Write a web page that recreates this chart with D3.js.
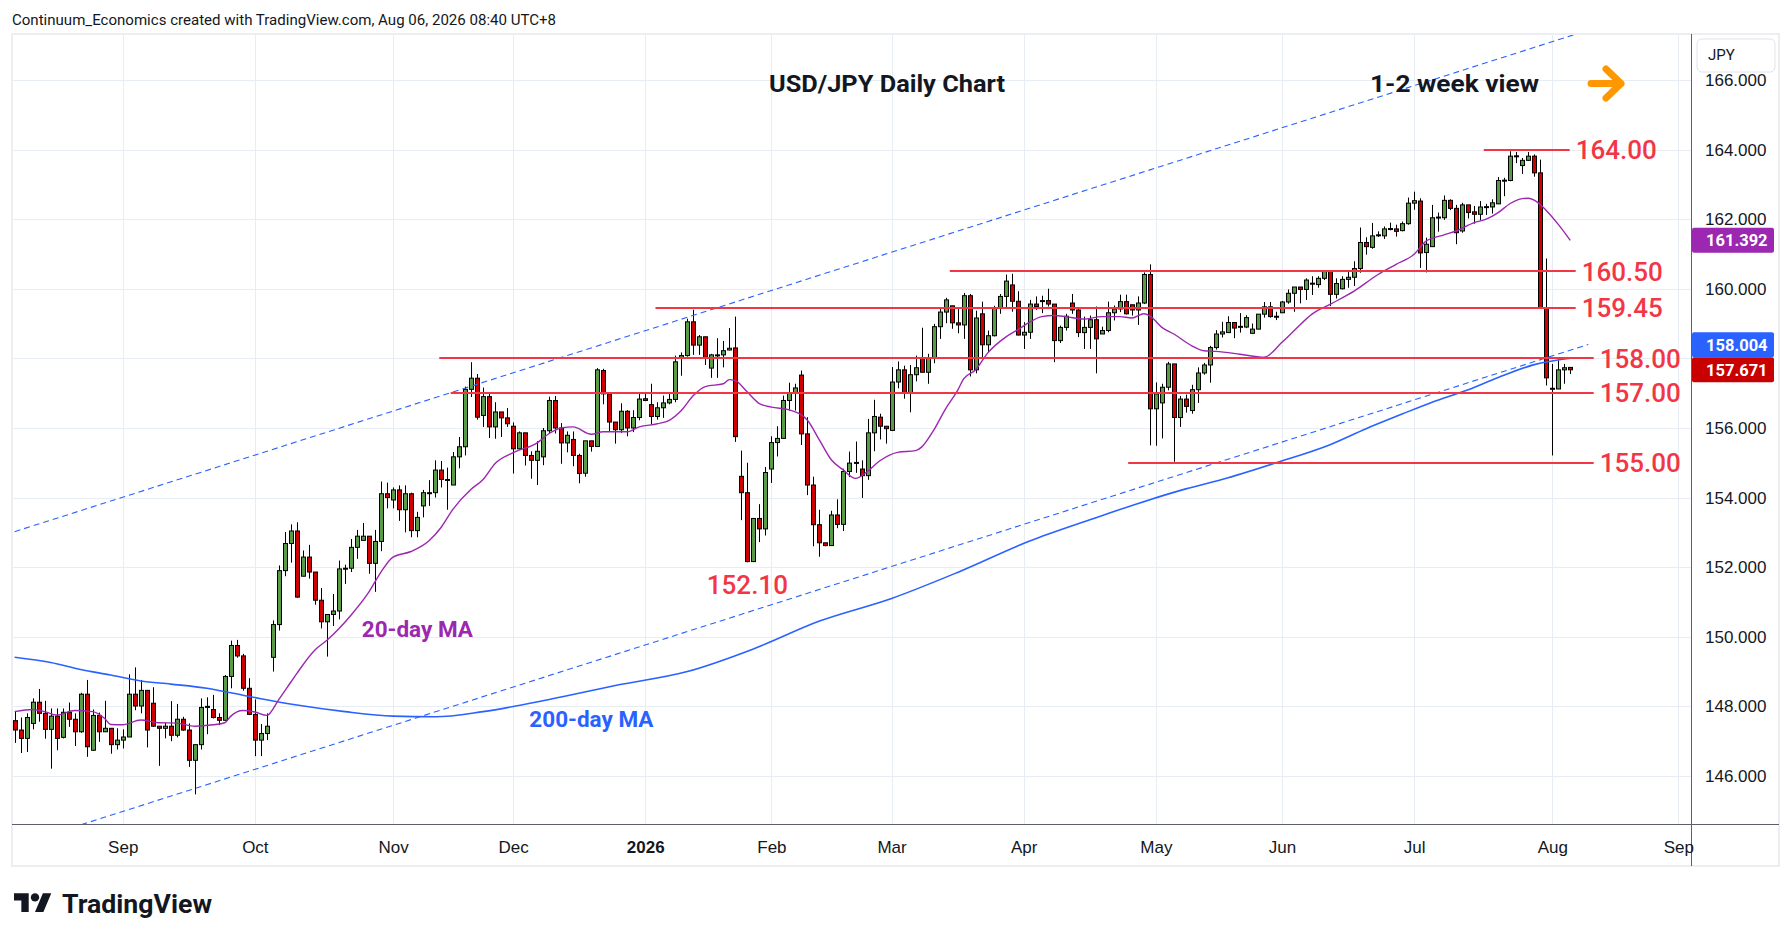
<!DOCTYPE html>
<html><head><meta charset="utf-8">
<script src="https://cdn.jsdelivr.net/npm/d3@7"></script>
<style>
html,body{margin:0;padding:0;background:#fff;}
svg{display:block;font-family:Roboto,"Noto Sans","DejaVu Sans",sans-serif;}
</style></head><body>
<svg id="chart" width="1792" height="942"></svg>
<script>
// ---------------- DATA ----------------
const startDate = "2025-08-06";
const calendarEnd = "2026-09-03";
const holidays = ["2025-12-25", "2026-01-01"];

const openP = [
147.59,147.32,147.08,147.51,148.12,147.80,147.34,147.72,147.11,147.83,
147.63,147.27,148.35,146.74,147.74,147.27,147.37,146.90,147.03,147.12,
148.35,148.01,148.46,148.09,147.43,147.37,147.43,147.17,147.63,147.32,
146.45,146.90,147.97,147.91,147.68,147.60,148.86,149.75,149.45,148.52,
147.77,147.03,147.22,149.41,150.35,151.90,152.68,153.04,151.74,152.29,
151.86,151.05,150.43,150.64,150.74,151.95,151.97,152.57,152.77,152.89,
152.11,152.74,154.11,153.93,154.22,153.65,154.11,153.05,153.76,154.12,
154.14,154.79,154.52,154.36,155.17,155.46,157.11,157.43,156.36,156.90,
156.03,156.46,156.29,156.05,155.40,155.86,155.21,155.07,155.17,155.92,
156.79,156.00,155.57,155.67,155.21,154.70,155.63,155.47,157.65,156.98,
156.17,155.95,156.48,156.00,156.30,156.84,156.67,156.33,156.58,156.72,
156.82,158.03,158.08,159.05,158.38,158.62,157.72,158.08,158.10,158.24,
158.30,154.61,154.14,152.16,153.40,153.10,154.82,155.58,155.70,156.79,
157.00,157.52,155.83,154.36,153.22,152.70,152.62,153.50,153.23,154.75,
154.99,154.82,154.63,155.86,156.31,156.05,155.93,157.32,157.67,157.01,
157.53,158.01,157.60,158.01,158.91,159.33,159.51,159.02,158.96,159.80,
157.67,159.28,158.39,158.65,159.45,159.78,160.11,159.64,158.67,158.75,
159.56,159.64,159.66,159.56,158.51,158.89,159.59,159.39,158.74,158.89,
159.11,158.70,158.80,159.31,159.42,159.63,159.54,159.39,159.59,160.41,
156.55,156.72,157.17,157.84,156.30,156.83,156.50,157.10,157.58,157.81,
158.31,158.70,158.74,159.03,158.90,158.90,158.72,158.84,159.27,159.48,
159.19,159.31,159.62,159.87,160.05,159.98,160.14,160.12,160.30,160.50,
159.84,160.00,160.27,160.33,160.58,161.33,161.19,161.53,161.52,161.71,
161.72,161.67,161.87,162.46,162.52,161.04,161.21,162.04,162.04,162.54,
162.31,161.66,162.41,162.21,162.14,162.34,162.35,162.44,163.10,163.11,
163.80,163.54,163.69,163.81,163.33,159.46,157.12,157.12,157.67,157.74];

const highP = [
147.87,147.68,147.80,148.23,148.50,148.16,147.94,147.94,147.94,148.11,
147.80,148.39,148.76,147.91,147.82,148.16,147.37,147.37,147.34,148.92,
149.12,148.76,148.46,148.55,147.43,147.53,148.15,148.07,147.70,147.51,
146.90,148.23,148.26,148.33,147.80,148.90,149.89,149.91,149.51,148.81,
148.20,147.49,147.80,150.47,152.05,153.01,153.23,153.29,152.48,152.64,
151.86,151.40,150.64,151.23,152.19,152.07,152.81,153.07,153.27,152.89,
153.07,154.46,154.43,154.29,154.35,154.35,154.14,153.59,154.22,154.50,
155.07,155.05,154.86,155.31,155.74,157.19,157.89,157.55,157.16,157.00,
156.74,156.46,156.57,156.16,155.90,155.86,155.33,155.62,156.00,156.90,
156.92,156.14,155.90,155.90,155.26,155.63,155.63,157.72,157.70,156.98,
156.17,156.71,156.51,156.51,156.98,156.98,157.27,156.74,156.93,157.03,
158.08,158.17,159.14,159.40,158.67,158.62,158.13,158.58,158.50,158.87,
159.20,155.35,155.00,153.40,153.81,154.88,155.76,156.05,156.93,157.30,
157.27,157.65,156.31,154.60,153.65,152.70,153.62,153.95,154.83,155.32,
155.61,155.07,156.26,156.81,156.41,156.05,157.75,157.91,157.79,157.81,
158.08,158.88,158.13,158.99,159.42,159.74,159.51,159.47,159.88,159.85,
159.37,159.63,158.80,159.51,159.85,160.41,160.43,159.93,159.04,159.68,
159.78,159.80,160.00,159.56,158.94,159.28,159.85,159.42,159.20,159.23,
159.49,158.91,159.63,159.52,159.83,159.83,159.54,159.78,160.47,160.70,
157.31,157.27,157.90,157.84,156.92,156.96,157.24,157.74,157.87,158.36,
158.81,159.05,159.21,159.03,159.30,159.24,159.00,159.27,159.62,159.62,
159.34,159.65,159.98,160.05,160.05,160.30,160.36,160.36,160.53,160.53,
160.30,160.36,160.49,160.79,161.76,161.48,161.89,161.65,161.79,161.90,
161.84,161.93,162.62,162.79,162.60,161.47,162.41,162.19,162.68,162.57,
162.41,162.47,162.41,162.38,162.52,162.44,162.57,163.21,163.19,163.95,
163.93,163.76,163.93,163.86,163.71,160.87,157.84,157.94,157.84,157.75];

const lowP = [
146.95,146.66,146.69,147.34,147.56,147.07,146.21,146.74,147.08,147.41,
146.86,147.24,146.55,146.72,146.98,147.27,146.64,146.76,146.79,147.12,
147.89,147.80,146.82,147.41,146.29,147.08,147.00,147.11,147.30,146.26,
145.47,146.76,147.20,147.65,147.46,147.59,148.52,149.40,148.45,147.75,
146.57,146.57,147.03,149.00,150.18,151.74,152.13,151.12,151.74,151.67,
150.92,150.24,149.43,150.31,150.50,151.52,151.86,152.24,152.77,151.81,
151.29,152.46,153.69,153.69,153.33,153.00,152.86,152.86,153.43,153.76,
154.00,154.29,153.65,154.36,154.84,155.21,156.89,156.24,156.03,155.71,
155.69,155.74,156.03,154.69,155.38,154.92,154.54,154.36,154.93,155.84,
155.84,154.97,155.30,154.90,154.41,154.60,155.32,155.47,156.68,155.89,
155.55,155.86,155.76,155.88,156.22,156.77,156.10,156.24,156.29,156.68,
156.74,157.50,158.05,158.10,158.10,157.81,157.44,157.44,157.74,158.23,
155.60,153.35,152.14,152.16,152.72,152.91,154.42,155.18,155.70,156.50,
156.50,155.51,154.07,152.60,152.30,152.60,152.62,153.12,153.04,154.59,
154.71,153.99,154.51,155.33,155.67,155.55,155.91,157.14,156.84,156.45,
157.34,157.60,157.27,157.86,158.56,159.01,158.85,158.72,158.56,157.48,
157.57,158.00,158.18,158.63,159.28,159.47,159.34,158.66,158.27,158.56,
159.39,159.30,159.49,157.89,158.44,158.80,159.28,158.61,158.27,158.27,
157.57,158.70,158.75,159.09,159.33,159.26,159.23,158.96,159.56,155.50,
155.49,155.70,157.08,155.03,156.03,156.44,156.41,156.72,157.53,157.30,
158.25,158.60,158.74,158.58,158.74,158.87,158.71,158.84,159.17,159.17,
159.10,159.30,159.57,159.34,159.58,159.68,159.82,160.03,160.25,159.50,
159.72,159.98,160.03,160.08,160.46,160.98,161.15,161.49,161.43,161.68,
161.50,161.65,161.84,162.27,160.60,160.47,161.21,161.64,161.98,162.26,
161.28,161.61,162.02,161.87,161.97,162.12,162.16,162.43,162.66,163.09,
163.61,163.30,163.67,163.22,159.42,157.22,155.21,157.12,157.27,157.55];

const closeP = [
147.32,147.08,147.68,148.12,147.80,147.34,147.72,147.08,147.83,147.63,
147.27,148.35,146.84,147.74,147.27,147.37,146.90,147.03,147.12,148.35,
148.01,148.46,147.32,147.43,147.37,147.43,147.17,147.63,147.32,146.45,
146.90,147.97,148.00,147.68,147.60,148.86,149.75,149.45,148.52,147.77,
147.03,147.22,147.43,150.35,151.90,152.68,153.04,151.14,152.29,151.86,
151.05,150.43,150.64,150.74,151.95,151.97,152.57,152.89,152.89,152.11,
152.74,154.11,154.00,154.22,153.65,154.11,153.05,153.43,154.14,154.14,
154.79,154.52,154.50,155.17,155.46,157.11,157.43,156.31,156.90,156.03,
156.46,156.29,156.12,155.40,155.86,155.21,155.07,155.33,155.92,156.79,
156.00,155.57,155.79,155.21,154.69,155.63,155.47,157.67,156.98,156.17,
155.95,156.48,156.00,156.30,156.83,156.79,156.33,156.58,156.72,156.82,
157.90,158.08,159.05,158.38,158.62,158.03,158.10,158.10,158.22,158.29,
155.75,154.14,152.16,153.40,153.10,154.72,155.58,155.70,156.79,157.00,
157.15,155.83,154.36,153.22,152.70,152.62,153.50,153.23,154.75,154.99,
155.01,154.63,155.86,156.33,156.05,155.98,157.32,157.67,157.01,157.53,
157.73,157.60,158.01,158.91,159.33,159.68,159.02,158.96,159.80,157.67,
159.16,158.39,158.65,159.45,159.78,160.22,159.64,158.67,158.75,159.56,
159.49,159.66,159.56,158.51,158.89,159.21,159.39,158.74,158.89,159.11,
158.56,158.80,159.31,159.42,159.63,159.28,159.39,159.59,160.41,156.55,
156.98,157.17,157.84,156.30,156.83,156.62,157.10,157.58,157.81,158.31,
158.70,158.76,159.03,158.87,158.92,159.17,158.84,159.27,159.48,159.20,
159.21,159.62,159.87,160.05,159.98,160.25,160.16,160.30,160.50,159.84,
160.15,160.27,160.33,160.58,161.33,161.21,161.52,161.55,161.72,161.73,
161.65,161.87,162.46,162.53,161.03,161.28,162.04,162.06,162.54,162.31,
161.61,162.41,162.19,162.14,162.35,162.36,162.47,163.11,163.12,163.81,
163.82,163.69,163.81,163.33,159.46,157.44,157.14,157.67,157.73,157.671];

// 20-day moving average (bar index, value)
const ma20Idx = [0,3,5,7,10,13,15,16,18,21,24,27,30,33,35,36,38,40,42,44,46,47,50,52,56,59,61,63,66,69,71,73,76,78,80,83,87,89,91,93,96,98,102,104,107,109,111,113,115,118,119,120,122,124,126,129,132,134,136,138,140,142,144,147,150,151,153,155,157,158,160,162,165,167,169,171,173,175,178,181,184,186,188,189,191,193,196,198,200,204,208,211,213,216,219,223,227,230,233,235,238,240,243,245,247,249,251,252,253,255,257,259];
const ma20Val = [147.85,147.91,147.85,147.75,147.88,147.85,147.65,147.48,147.47,147.61,147.53,147.52,147.43,147.47,147.53,147.72,147.88,147.84,147.74,148.2,148.7,148.95,149.62,149.90,150.62,151.29,151.86,152.29,152.45,152.76,153.14,153.67,154.24,154.52,154.98,155.29,155.57,155.84,156.0,156.03,155.82,155.89,155.89,156.03,156.12,156.22,156.50,156.93,157.19,157.27,157.39,157.36,157.03,156.70,156.60,156.52,156.22,155.65,155.08,154.79,154.55,154.75,155.05,155.30,155.35,155.45,155.93,156.55,157.08,157.41,157.67,158.15,158.61,158.82,159.04,159.20,159.23,159.20,159.13,159.20,159.20,159.16,159.28,159.22,158.89,158.70,158.36,158.22,158.20,158.12,158.03,158.46,158.79,159.27,159.55,159.93,160.41,160.70,160.99,161.37,161.55,161.66,161.90,162.0,162.19,162.45,162.59,162.60,162.55,162.25,161.85,161.392];

// 200-day moving average (bar index, value)
const ma200Idx = [0,6,11,16,21,26,32,36,41,47,55,63,70,78,89,100,112,123,134,146,157,169,179,189,195,201,210,219,225,231,236,242,247,253,259];
const ma200Val = [149.41,149.26,149.06,148.90,148.73,148.64,148.52,148.39,148.22,148.04,147.85,147.72,147.70,147.85,148.2,148.6,149.0,149.65,150.45,151.1,151.85,152.75,153.36,153.94,154.25,154.52,155.0,155.52,155.98,156.40,156.74,157.10,157.45,157.82,158.004];

const monthLabels = ["Sep","Oct","Nov","Dec","2026","Feb","Mar","Apr","May","Jun","Jul","Aug","Sep"];
const priceTicks = [146,148,150,152,154,156,158,160,162,164,166];

// Horizontal levels (price, from bar index, to bar index)
const levelPrices = [164.00,160.50,159.45,158.00,157.00,155.00];
const levelText = ["164.00","160.50","159.45","158.00","157.00","155.00"];
const levelFrom = [244.6,155.7,106.7,70.7,72.6,185.4];
const levelTo = [258.9,259.9,259.9,262.9,262.9,262.9];

// Channel trend lines (bar index, price)
const channelIdx = [0, 262];
const channelUpper = [153.02, 167.43];
const channelLower = [143.99, 158.40];

// Text annotations anchored to (bar index, price)
const annoText = ["152.10","20-day MA","200-day MA"];
const annoIdx = [122.0, 57.8, 85.7];
const annoPrice = [151.23, 149.98, 147.40];

const lastPrice = 157.671;
const ma20Last = 161.392;
const ma200Last = 158.004;

// ---------------- CHART ----------------
const svg = d3.select("#chart");
const plot = {left:12.5, right:1691, top:35, bottom:824, frameRight:1779, frameBottom:866};
const GREEN = "#5a9b47", RED = "#d10000", LEVEL = "#f23645", PURPLE = "#9c27b0", BLUE = "#2962ff";

svg.append("rect").attr("width",1792).attr("height",942).attr("fill","#fff");

const parse = d3.utcParse("%Y-%m-%d"), fmt = d3.utcFormat("%Y-%m-%d");
const allDays = d3.utcDay.range(parse(startDate), d3.utcDay.offset(parse(calendarEnd),1));
const calendar = allDays.filter(d => d.getUTCDay()!==0 && d.getUTCDay()!==6 && !holidays.includes(fmt(d)));
const monthIdx = [];
for (let i=1;i<calendar.length;i++) if (calendar[i].getUTCMonth()!==calendar[i-1].getUTCMonth()) monthIdx.push(i);

const x = d3.scaleLinear().domain([-0.35, calendar.length - 0.9]).range([plot.left, plot.right]);
const y = d3.scaleLinear().domain([144.62, 167.28]).range([plot.bottom, 35.4]);

svg.append("defs").append("clipPath").attr("id","clip")
  .append("rect").attr("x",plot.left).attr("y",plot.top).attr("width",plot.right-plot.left).attr("height",plot.bottom-plot.top);

// grid
const grid = svg.append("g").attr("stroke","#e8edf3").attr("stroke-width",1);
grid.selectAll("line.h").data(priceTicks).join("line")
  .attr("x1",plot.left).attr("x2",plot.right)
  .attr("y1",d=>Math.round(y(d))+0.5).attr("y2",d=>Math.round(y(d))+0.5);
grid.selectAll("line.v").data(monthIdx).join("line")
  .attr("y1",plot.top).attr("y2",plot.bottom)
  .attr("x1",d=>Math.round(x(d))+0.5).attr("x2",d=>Math.round(x(d))+0.5);

const pg = svg.append("g").attr("clip-path","url(#clip)");

// candles
const bars = openP.map((o,i)=>({i,o,h:highP[i],l:lowP[i],c:closeP[i]}));
const cg = pg.append("g");
cg.selectAll("line.wick").data(bars).join("line")
  .attr("x1",d=>Math.round(x(d.i))+0.5).attr("x2",d=>Math.round(x(d.i))+0.5)
  .attr("y1",d=>y(d.h)).attr("y2",d=>y(d.l))
  .attr("stroke","#000").attr("stroke-width",1);
cg.selectAll("rect.body").data(bars).join("rect")
  .attr("x",d=>Math.round(x(d.i))-2+0.5)
  .attr("width",4)
  .attr("y",d=>Math.min(y(d.o),y(d.c)))
  .attr("height",d=>Math.max(1,Math.abs(y(d.o)-y(d.c))))
  .attr("fill",d=>d.c>=d.o?GREEN:RED)
  .attr("stroke","#000").attr("stroke-width",1);

// moving averages
const maLine = d3.line().x(d=>x(d[0])).y(d=>y(d[1])).curve(d3.curveMonotoneX);
pg.append("path").datum(ma200Idx.map((k,j)=>[k,ma200Val[j]]))
  .attr("d",maLine).attr("fill","none").attr("stroke",BLUE).attr("stroke-width",1.6);
pg.append("path").datum(ma20Idx.map((k,j)=>[k,ma20Val[j]]))
  .attr("d",maLine).attr("fill","none").attr("stroke",PURPLE).attr("stroke-width",1.4);

// channel
[channelUpper, channelLower].forEach(ch=>{
  pg.append("line")
    .attr("x1",x(channelIdx[0])).attr("y1",y(ch[0]))
    .attr("x2",x(channelIdx[1])).attr("y2",y(ch[1]))
    .attr("stroke",BLUE).attr("stroke-width",1.1).attr("stroke-dasharray","6,4");
});

// levels
const lv = levelPrices.map((p,j)=>({p,t:levelText[j],a:levelFrom[j],b:levelTo[j]}));
pg.selectAll("line.lv").data(lv).join("line")
  .attr("x1",d=>x(d.a)).attr("x2",d=>x(d.b))
  .attr("y1",d=>Math.round(y(d.p))).attr("y2",d=>Math.round(y(d.p)))
  .attr("stroke",LEVEL).attr("stroke-width",2);
pg.selectAll("text.lv").data(lv).join("text")
  .attr("x",d=>x(d.b)+6).attr("y",d=>y(d.p)+9.3)
  .attr("font-size",26).attr("font-weight",500).attr("fill",LEVEL)
  .text(d=>d.t);

// annotations
const annoStyle = [
  {fill:LEVEL, size:26, weight:500, anchor:"middle"},
  {fill:PURPLE, size:22.5, weight:700, anchor:"start"},
  {fill:BLUE, size:22.5, weight:700, anchor:"start"}];
annoText.forEach((t,j)=>{
  pg.append("text").attr("x",x(annoIdx[j])).attr("y",y(annoPrice[j]))
    .attr("text-anchor",annoStyle[j].anchor)
    .attr("font-size",annoStyle[j].size).attr("font-weight",annoStyle[j].weight)
    .attr("fill",annoStyle[j].fill).text(t);
});

// titles
pg.append("text").attr("x",769).attr("y",91.5)
  .attr("font-size",24.5).attr("font-weight",700).attr("fill","#131722")
  .attr("textLength",236).attr("lengthAdjust","spacingAndGlyphs").text("USD/JPY Daily Chart");
pg.append("text").attr("x",1370).attr("y",91.5)
  .attr("font-size",24.5).attr("font-weight",700).attr("fill","#131722")
  .attr("textLength",169).attr("lengthAdjust","spacingAndGlyphs").text("1-2 week view");
pg.append("path").attr("d","M1591,83.5H1621M1606,69L1621,83.5L1606,98")
  .attr("fill","none").attr("stroke","#ff9800").attr("stroke-width",7)
  .attr("stroke-linecap","round").attr("stroke-linejoin","round");

// frame & axes lines
svg.append("rect").attr("x",12).attr("y",34).attr("width",plot.frameRight-12).attr("height",plot.frameBottom-34)
  .attr("fill","none").attr("stroke","#eceef2").attr("stroke-width",2);
svg.append("line").attr("x1",plot.right+0.5).attr("x2",plot.right+0.5).attr("y1",34).attr("y2",plot.frameBottom)
  .attr("stroke","#5d606b").attr("stroke-width",1);
svg.append("line").attr("x1",12).attr("x2",plot.frameRight).attr("y1",plot.bottom+0.5).attr("y2",plot.bottom+0.5)
  .attr("stroke","#5d606b").attr("stroke-width",1);

// x axis
const xAxis = d3.axisBottom(x).tickValues(monthIdx).tickFormat((d,i)=>monthLabels[i]).tickSize(0).tickPadding(17);
const gx = svg.append("g").attr("transform",`translate(0,${plot.bottom})`).call(xAxis);
gx.select(".domain").remove();
gx.selectAll("text").attr("font-size",17).attr("fill","#131722").attr("font-family",null)
  .attr("font-weight",(d,i)=>monthLabels[i]==="2026"?700:400);

// price boxes (computed first so covered tick labels can be hidden, as in the reference)
const boxH = 25;
const lastY = y(lastPrice);
const boxes = [
  {v:ma20Last, cy:y(ma20Last), fill:PURPLE},
  {v:lastPrice, cy:lastY, fill:"#c80000"},
  {v:ma200Last, cy:Math.min(y(ma200Last), lastY-boxH), fill:BLUE}];
const covered = v => boxes.some(b => Math.abs(y(v)-b.cy) < boxH/2 + 8);

// y axis
const yAxis = d3.axisRight(y).tickValues(priceTicks.filter(v=>!covered(v)))
  .tickFormat(d3.format(".3f")).tickSize(0).tickPadding(14);
const gy = svg.append("g").attr("transform",`translate(${plot.right},0)`).call(yAxis);
gy.select(".domain").remove();
gy.selectAll("text").attr("font-size",17).attr("fill","#131722").attr("font-family",null).attr("font-weight",500);

const bg = svg.append("g");
bg.selectAll("rect").data(boxes).join("rect")
  .attr("x",plot.right+1).attr("width",82).attr("y",d=>d.cy-boxH/2).attr("height",boxH)
  .attr("rx",2).attr("fill",d=>d.fill);
bg.selectAll("text").data(boxes).join("text")
  .attr("x",1706).attr("y",d=>d.cy+5.8).attr("font-size",16.5).attr("font-weight",700).attr("fill","#fff")
  .text(d=>d3.format(".3f")(d.v));

// currency box
svg.append("rect").attr("x",1697).attr("y",39).attr("width",78).attr("height",33).attr("rx",5)
  .attr("fill","#fff").attr("stroke","#e0e3eb");
svg.append("text").attr("x",1708).attr("y",60).attr("font-size",15).attr("fill","#131722").text("JPY");

// header
svg.append("text").attr("x",12).attr("y",25).attr("font-size",15).attr("fill","#131722")
  .attr("textLength",544).attr("lengthAdjust","spacingAndGlyphs")
  .text("Continuum_Economics created with TradingView.com, Aug 06, 2026 08:40 UTC+8");

// logo
const logo = svg.append("g").attr("transform","translate(14,889) scale(1.05)").attr("fill","#131722");
logo.append("path").attr("d","M14 22H7V11H0V4h14v18zM28 22h-8l7.5-18h8L28 22z");
logo.append("circle").attr("cx",20).attr("cy",8).attr("r",4);
svg.append("text").attr("x",62).attr("y",913).attr("font-size",26).attr("font-weight",700).attr("fill","#131722")
  .attr("textLength",150).attr("lengthAdjust","spacingAndGlyphs").text("TradingView");
</script>
</body></html>
